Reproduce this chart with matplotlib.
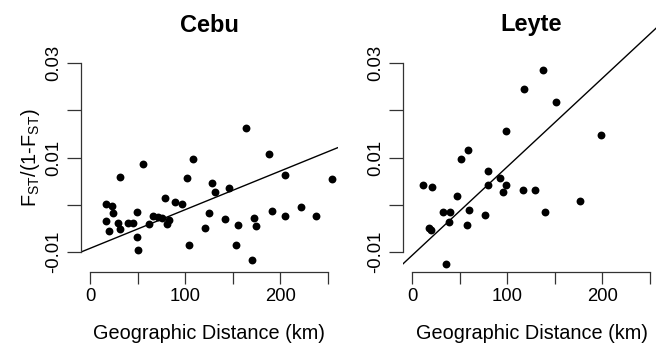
import numpy as np
import matplotlib
matplotlib.use("Agg")
import matplotlib.pyplot as plt

plt.rcParams['font.family'] = ['Liberation Sans', 'DejaVu Sans']
plt.rcParams['mathtext.default'] = 'regular'

# Cebu: geographic distance (km) vs FST/(1-FST)
cebu_dist = [16.8, 22.8, 24.5, 16.8, 20.3, 29.8, 31.9, 31.9, 39.6, 45.2,
             49.0, 49.0, 50.8, 55.3, 62.3, 66.2, 71.8, 75.3, 78.8, 80.5,
             83.0, 89.6, 96.3, 101.5, 104.0, 108.2, 121.2, 124.7, 128.5, 131.7,
             142.2, 145.7, 153.7, 155.5, 164.2, 170.5, 172.6, 174.4, 187.7, 191.5,
             205.2, 204.8, 221.6, 237.0, 254.5]
cebu_fst = [0.0002, -0.0002, -0.0017, -0.0035, -0.0055, -0.0038, -0.0052, 0.0058, -0.0039, -0.0039,
            -0.0015, -0.0067, -0.0095, 0.0086, -0.0040, -0.0023, -0.0026, -0.0028, 0.0014, -0.0040,
            -0.0032, 0.0006, 0.0001, 0.0056, -0.0084, 0.0096, -0.0050, -0.0017, 0.0046, 0.0027,
            -0.0029, 0.0035, -0.0084, -0.0042, 0.0162, -0.0116, -0.0028, -0.0045, 0.0107, -0.0012,
            0.0063, -0.0023, -0.0004, -0.0023, 0.0055]
cebu_fit = (-0.0092, 8.18e-5)   # intercept, slope

# Leyte
leyte_dist = [11.9, 21.0, 18.2, 20.0, 32.2, 40.3, 38.5, 36.1, 46.9, 51.1,
              59.2, 59.6, 57.8, 77.0, 79.8, 79.8, 92.4, 95.9, 98.7, 98.7,
              116.6, 117.6, 128.9, 138.0, 140.0, 151.0, 176.8, 198.5]
leyte_fst = [0.0042, 0.0038, -0.0050, -0.0054, -0.0015, -0.0016, -0.0037, -0.0126, 0.0018, 0.0096,
             0.0115, -0.0011, -0.0042, -0.0021, 0.0071, 0.0043, 0.0056, 0.0028, 0.0041, 0.0157,
             0.0032, 0.0244, 0.0032, 0.0286, -0.0016, 0.0217, 0.0009, 0.0148]
leyte_fit = (-0.0107, 1.874e-4)

x_ticks = [0, 50, 100, 150, 200, 250]
x_labels = ['0', '', '100', '', '200', '']
y_ticks = [-0.01, 0.0, 0.01, 0.02, 0.03]
y_labels = ['-0.01', '', '0.01', '', '0.03']

W, H = 656, 346
fig = plt.figure(figsize=(W / 100, H / 100), dpi=100)


def px_box(left, right, top, bottom):
    return [left / W, 1 - bottom / H, (right - left) / W, (bottom - top) / H]


def panel(box, dist, fst, fit, title, cx):
    ax = fig.add_axes(box)
    ax.scatter(dist, fst, s=32, color='black', linewidths=0, zorder=3)
    xs = np.array([-10, 260])
    ax.plot(xs, fit[0] + fit[1] * xs, color='black', lw=1.0)
    ax.set_xlim(-10, 260)
    ax.set_ylim(-0.0142, 0.042)
    for s in ['top', 'right']:
        ax.spines[s].set_visible(False)
    ax.spines['left'].set_bounds(-0.01, 0.03)
    ax.spines['bottom'].set_bounds(0, 250)
    for s in ['left', 'bottom']:
        ax.spines[s].set_linewidth(0.9)
        ax.spines[s].set_color('#333333')
    ax.set_xticks(x_ticks)
    ax.set_xticklabels(x_labels)
    ax.set_yticks(y_ticks)
    ax.set_yticklabels(y_labels, rotation=90, va='center')
    ax.tick_params(width=0.9, color='#333333', labelsize=13.3)
    ax.tick_params(axis='x', length=8.3, pad=3.5)
    ax.tick_params(axis='y', length=10, pad=3)
    fig.text(cx / W, 1 - 339 / H, 'Geographic Distance (km)', fontsize=14.3,
             ha='center', va='baseline')
    fig.text(cx / W, 1 - 25 / H, title, fontsize=17,
             fontweight='bold', ha='center', va='center')
    return ax


ax1 = panel(px_box(80.5, 337.5, 6.2, 272), cebu_dist, cebu_fst, cebu_fit, 'Cebu', 209)
ax2 = panel(px_box(402.5, 659.5, 6.2, 272), leyte_dist, leyte_fst, leyte_fit, 'Leyte', 531.5)

fig.text(31 / W, 1 - 158 / H, r'F$_{ST}$/(1-F$_{ST}$)', rotation=90,
         ha='center', va='center', fontsize=14.3)

fig.savefig('out.png', dpi=100)
